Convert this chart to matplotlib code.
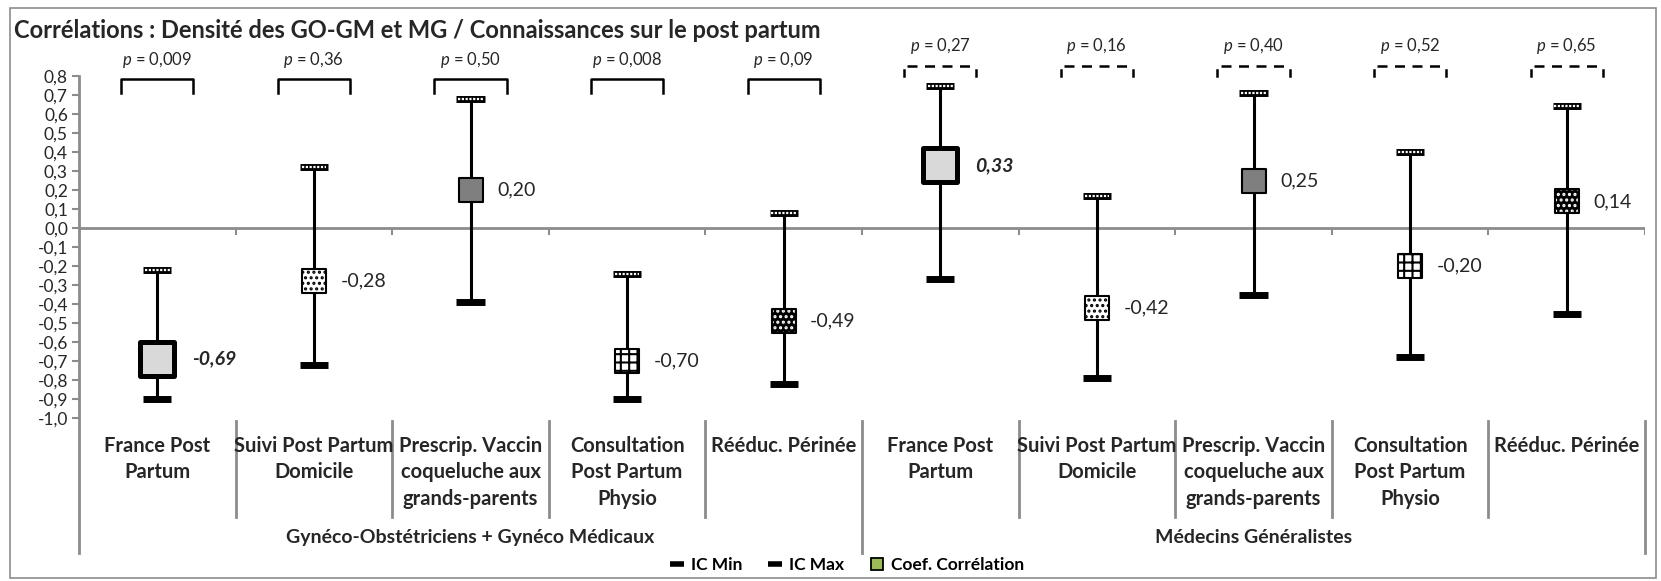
import numpy as np
import matplotlib.pyplot as plt
from matplotlib.lines import Line2D
from matplotlib.patches import Rectangle

plt.rcParams['font.family'] = ['Lato', 'DejaVu Sans']
plt.rcParams['mathtext.fontset'] = 'custom'
plt.rcParams['mathtext.it'] = 'Lato:italic'
plt.rcParams['mathtext.rm'] = 'Lato'
plt.rcParams['hatch.linewidth'] = 1.5

# data
title = "Corrélations : Densité des GO-GM et MG / Connaissances sur le post partum"
groups = ["Gynéco-Obstétriciens + Gynéco Médicaux", "Médecins Généralistes"]
items = ["France Post\nPartum", "Suivi Post Partum\nDomicile",
         "Prescrip. Vaccin\ncoqueluche aux\ngrands-parents",
         "Consultation\nPost Partum\nPhysio", "Rééduc. Périnée"]
labels = items + items
coef = [-0.69, -0.28, 0.20, -0.70, -0.49, 0.33, -0.42, 0.25, -0.20, 0.14]
ic_min = [-0.90, -0.72, -0.39, -0.90, -0.82, -0.27, -0.79, -0.35, -0.68, -0.45]
ic_max = [-0.22, 0.32, 0.68, -0.24, 0.08, 0.75, 0.17, 0.71, 0.40, 0.64]
p_values = ["0,009", "0,36", "0,50", "0,008", "0,09", "0,27", "0,16", "0,40", "0,52", "0,65"]
y_ticks = [0.8, 0.7, 0.6, 0.5, 0.4, 0.3, 0.2, 0.1, 0.0, -0.1, -0.2, -0.3, -0.4,
           -0.5, -0.6, -0.7, -0.8, -0.9, -1.0]

styles = ['big', 'confetti', 'gray', 'brick', 'dark'] * 2
gray = '#8c8c8c'
txt = '#262626'

fig = plt.figure(figsize=(16.61, 5.81), dpi=100)
ax = fig.add_axes([79 / 1661, 1 - 418 / 581, (1645 - 79) / 1661, (418 - 40) / 581])
x = np.arange(len(labels))
ax.set_xlim(-0.5, 9.5)
ax.set_ylim(-1.0, 0.9895)
for s in ax.spines.values():
    s.set_visible(False)

# y axis
ax.set_yticks(y_ticks)
ax.set_yticklabels([f"{v:.1f}".replace('.', ',') for v in y_ticks])
ax.tick_params(axis='y', length=5, width=1.5, color=gray, labelsize=12.5, pad=3, labelcolor=txt)
ax.set_xticks([])
ax.plot([-0.5, -0.5], [0.8, -1.711], color=gray, lw=2, clip_on=False, zorder=1)

# zero line with ticks at category boundaries
ax.axhline(0, color=gray, lw=2, zorder=1)
ax.vlines(np.arange(-0.5, 10, 1), -0.035, 0, color=gray, lw=1.5, zorder=1)

# category dividers
for b in np.arange(0.5, 9.5, 1):
    if b == 4.5:
        continue
    ax.plot([b, b], [-1.016, -1.521], color=gray, lw=2, clip_on=False)
for b in [4.5, 9.5]:
    ax.plot([b, b], [-1.016, -1.711], color=gray, lw=2, clip_on=False)

for i, lab in enumerate(labels):
    ax.text(i, -1.093, lab, ha='center', va='top', fontsize=14.5, fontweight='bold',
            color=txt, linespacing=1.41, clip_on=False)
for g, name in enumerate(groups):
    ax.text(2 + 5 * g, -1.63, name, ha='center', va='center', fontsize=14,
            fontweight='bold', color=txt, clip_on=False)

# confidence intervals
ax.vlines(x, ic_min, ic_max, color='black', lw=2.2, zorder=2)
ax.hlines(ic_min, x - 0.09, x + 0.09, color='black', lw=5, zorder=3)
ax.hlines(ic_max, x - 0.09, x + 0.09, color='black', lw=5, zorder=3)
ax.hlines(ic_max, x - 0.078, x + 0.078, color='white', lw=1.6, zorder=4,
          linestyles=[(0, (1.0, 0.7))])

# correlation markers
for i in range(len(coef)):
    st = styles[i]
    if st == 'big':
        ax.scatter(i, coef[i], s=600, marker='s', fc='#d9d9d9', ec='black', lw=3.6, zorder=5)
    elif st == 'confetti':
        ax.scatter(i, coef[i], s=300, marker='s', fc='white', ec='black', lw=1.5,
                   hatch='...', zorder=5)
    elif st == 'gray':
        ax.scatter(i, coef[i], s=300, marker='s', fc='#7f7f7f', ec='black', lw=1.5, zorder=5)
    elif st == 'brick':
        ax.scatter(i, coef[i], s=300, marker='s', fc='white', ec='black', lw=1.5,
                   hatch='++', zorder=5)
    else:
        ax.scatter(i, coef[i], s=300, marker='s', fc='black', ec='white', lw=0,
                   hatch='...', zorder=5)
        ax.scatter(i, coef[i], s=300, marker='s', fc='none', ec='black', lw=1.5, zorder=6)
    lab = f"{coef[i]:.2f}".replace('.', ',')
    if st == 'big':
        ax.annotate(lab, (i, coef[i]), xytext=(25, 0), textcoords='offset points',
                    va='center', ha='left', fontsize=14, fontweight='bold',
                    style='italic', color=txt)
    else:
        ax.annotate(lab, (i, coef[i]), xytext=(19, 0), textcoords='offset points',
                    va='center', ha='left', fontsize=14, color=txt)

# p-value brackets
for i, p in enumerate(p_values):
    if i < 5:
        ax.plot([i - 0.23, i - 0.23, i + 0.23, i + 0.23], [0.71, 0.785, 0.785, 0.71],
                color='black', lw=1.8, clip_on=False)
        ty = 0.885
    else:
        ax.plot([i - 0.21, i + 0.21], [0.855, 0.855], color='black', lw=1.8,
                ls=(0, (4, 3)), clip_on=False)
        for sx in (-0.23, 0.23):
            ax.plot([i + sx, i + sx], [0.80, 0.83], color='black', lw=1.8, clip_on=False)
        ty = 0.96
    ax.text(i, ty, f"$p$ = {p}", ha='center', va='center', fontsize=12, color=txt,
            clip_on=False)

# legend
handles = [
    Line2D([], [], color='black', lw=0, marker='_', markersize=10, markeredgewidth=4),
    Line2D([], [], color='black', lw=0, marker='_', markersize=10, markeredgewidth=4),
    Line2D([], [], color='black', lw=0, marker='s', markersize=9, mfc='#9bbb59',
           mec='black', markeredgewidth=1.3),
]
fig.legend(handles, ["IC Min", "IC Max", "Coef. Corrélation"], loc='center',
           bbox_to_anchor=(0.51, 0.0275), ncol=3, frameon=False, handlelength=0.8,
           handletextpad=0.4, columnspacing=1.5,
           prop={'size': 12.5, 'weight': 'bold'})

fig.text(14 / 1661, 1 - 30 / 581, title, fontsize=17, fontweight='bold',
         va='center', ha='left', color=txt)
fig.add_artist(Rectangle((10 / 1661, 1 - 578 / 581), 1646 / 1661, 570 / 581,
                         transform=fig.transFigure, fill=False, ec=gray, lw=1.2))

fig.savefig('out.png', dpi=100)
